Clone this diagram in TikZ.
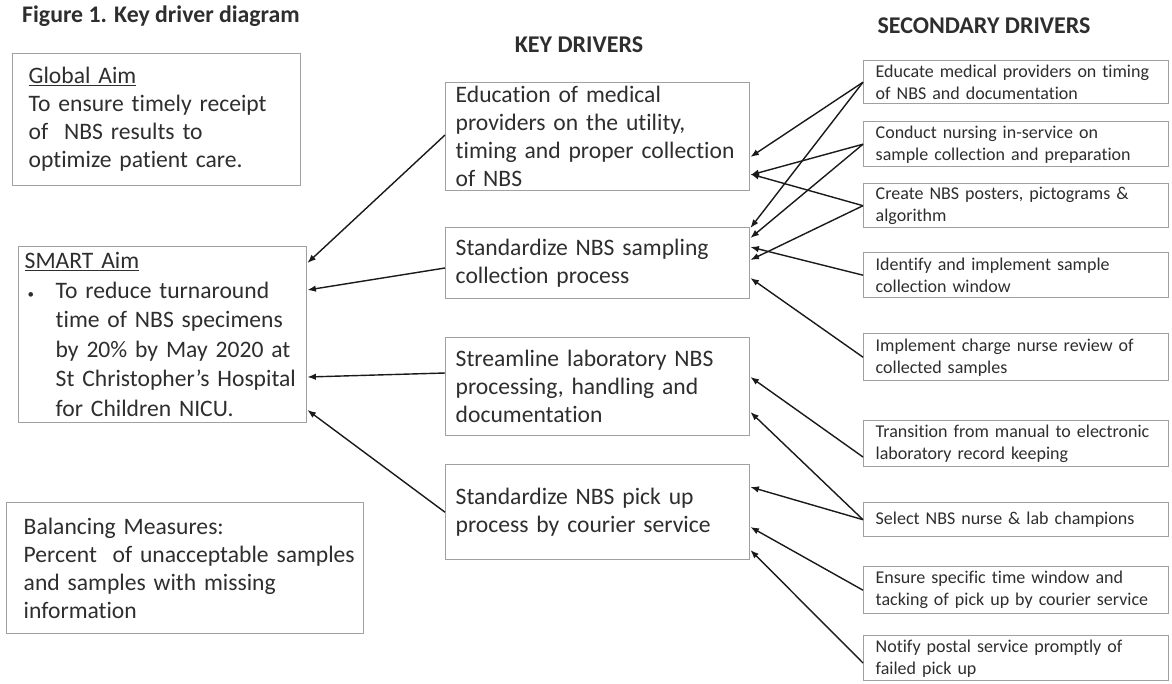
\documentclass[tikz,border=0pt]{standalone}
\usepackage{fontspec}
\setmainfont{Carlito}[Ligatures=NoCommon]
\usetikzlibrary{arrows.meta,calc}
\definecolor{txt}{HTML}{2E2E2E}
\definecolor{boxc}{HTML}{A0A0A0}
\definecolor{arr}{HTML}{1A1A1A}
\begin{document}
\begin{tikzpicture}[x=1pt,y=-1pt,
  box/.style={draw=boxc, line width=1.4pt, rectangle, anchor=north west, align=left, text=txt, inner ysep=0pt},
  kd/.style={box, minimum width=304pt, text width=284pt, inner xsep=10pt, font=\fontsize{23.6}{28}\selectfont},
  sd/.style={box, minimum width=305pt, text width=281pt, inner xsep=12pt, font=\fontsize{18}{22}\selectfont},
  link/.style={draw=arr, line width=1.4pt, -{Latex[length=8.5pt,width=6.5pt]}},
  hdr/.style={font=\bfseries\fontsize{24}{28}\selectfont, text=txt, inner sep=0pt}]
\useasboundingbox[fill=white] (0,0) rectangle (1172,683);

% headers
\node[hdr, anchor=west, font=\bfseries\fontsize{23.8}{28}\selectfont] (title) at (22,16) {Figure 1. Key driver diagram};
\node[hdr] (kdh) at (579,45) {KEY DRIVERS};
\node[hdr] (sdh) at (984,26) {SECONDARY DRIVERS};

% left column
\node[box, minimum width=288pt, minimum height=132pt, text width=256pt, inner xsep=16pt, font=\fontsize{23.6}{28}\selectfont] (ga) at (12,53)
  {\underline{Global Aim}\\\mbox{To ensure timely receipt}\\\mbox{of~ NBS results to}\\\mbox{optimize patient care.}};
\node[box, minimum width=288pt, minimum height=176pt, text width=276pt, inner xsep=6pt, font=\fontsize{23.6}{29.5}\selectfont] (sm) at (18,246)
  {\underline{SMART Aim}\\
   \mbox{\makebox[31pt][l]{\hspace{3pt}{\fontsize{13}{13}\selectfont\textbullet}}To reduce turnaround}\\
   \mbox{\hspace*{31pt}time of NBS specimens}\\
   \mbox{\hspace*{31pt}by 20\% by May 2020 at}\\
   \mbox{\hspace*{31pt}St Christopher’s Hospital}\\
   \mbox{\hspace*{31pt}for Children NICU.}};
\node[box, minimum width=357pt, minimum height=131pt, text width=323pt, inner xsep=17pt, font=\fontsize{23.6}{28}\selectfont] (bm) at (6,502)
  {\mbox{Balancing Measures:}\\\mbox{Percent~ of unacceptable samples}\\\mbox{and samples with missing}\\\mbox{information}};

% key drivers
\node[kd, minimum height=108pt] (k1) at (445,82)
  {\mbox{Education of medical}\\\mbox{providers on the utility,}\\\mbox{timing and proper collection}\\\mbox{of NBS}};
\node[kd, minimum height=71pt] (k2) at (445,227)
  {\mbox{Standardize NBS sampling}\\\mbox{collection process}};
\node[kd, minimum height=98pt] (k3) at (445,337)
  {\mbox{Streamline laboratory NBS}\\\mbox{processing, handling and}\\\mbox{documentation}};
\node[kd, minimum height=95pt] (k4) at (445,464)
  {\mbox{Standardize NBS pick up}\\\mbox{process by courier service}};

% secondary drivers
\node[sd, minimum height=43pt] (s1) at (863,60)
  {\mbox{Educate medical providers on timing}\\\mbox{of NBS and documentation}};
\node[sd, minimum height=45pt] (s2) at (863,121)
  {\mbox{Conduct nursing in-service on}\\\mbox{sample collection and preparation}};
\node[sd, minimum height=44pt] (s3) at (863,183)
  {\mbox{Create NBS posters, pictograms \&}\\\mbox{algorithm}};
\node[sd, minimum height=45pt] (s4) at (863,252)
  {\mbox{Identify and implement sample}\\\mbox{collection window}};
\node[sd, minimum height=47pt] (s5) at (863,333)
  {\mbox{Implement charge nurse review of}\\\mbox{collected samples}};
\node[sd, minimum height=46pt] (s6) at (863,420)
  {\mbox{Transition from manual to electronic}\\\mbox{laboratory record keeping}};
\node[sd, minimum height=34pt] (s7) at (863,502)
  {\mbox{Select NBS nurse \& lab champions}};
\node[sd, minimum height=47pt] (s8) at (863,566)
  {\mbox{Ensure specific time window and}\\\mbox{tacking of pick up by courier service}};
\node[sd, minimum height=45pt] (s9) at (863,635)
  {\mbox{Notify postal service promptly of}\\\mbox{failed pick up}};

% secondary -> key
\draw[link] (s1.west) -- ([yshift=-75pt]k1.north east);
\draw[link] (s1.west) -- ([yshift=-1pt]k2.north east);
\draw[link] (s2.west) -- ([yshift=-93pt]k1.north east);
\draw[link] (s2.west) -- ([yshift=-11pt]k2.north east);
\draw[link] (s3.west) -- ([yshift=-92pt]k1.north east);
\draw[link] (s3.west) -- ([yshift=-33pt]k2.north east);
\draw[link] (s4.west) -- ([yshift=-20pt]k2.north east);
\draw[link] (s5.west) -- ([yshift=-51pt]k2.north east);
\draw[link] ([yshift=-37pt]s6.north west) -- ([yshift=-40pt]k3.north east);
\draw[link] (s7.west) -- ([yshift=-75pt]k3.north east);
\draw[link] (s7.west) -- ([yshift=-23pt]k4.north east);
\draw[link] (s8.west) -- ([yshift=-63pt]k4.north east);
\draw[link] ([yshift=-28pt]s9.north west) -- ([yshift=-86pt]k4.north east);

% key -> SMART aim
\draw[link] ([yshift=-53pt]k1.north west) -- ([yshift=-17pt]sm.north east);
\draw[link] ([yshift=-41pt]k2.north west) -- ([yshift=-44pt]sm.north east);
\draw[link] ([yshift=-36pt]k3.north west) -- ([yshift=-131pt]sm.north east);
\draw[link] (k4.west) -- ([yshift=-164pt]sm.north east);
\end{tikzpicture}
\end{document}
